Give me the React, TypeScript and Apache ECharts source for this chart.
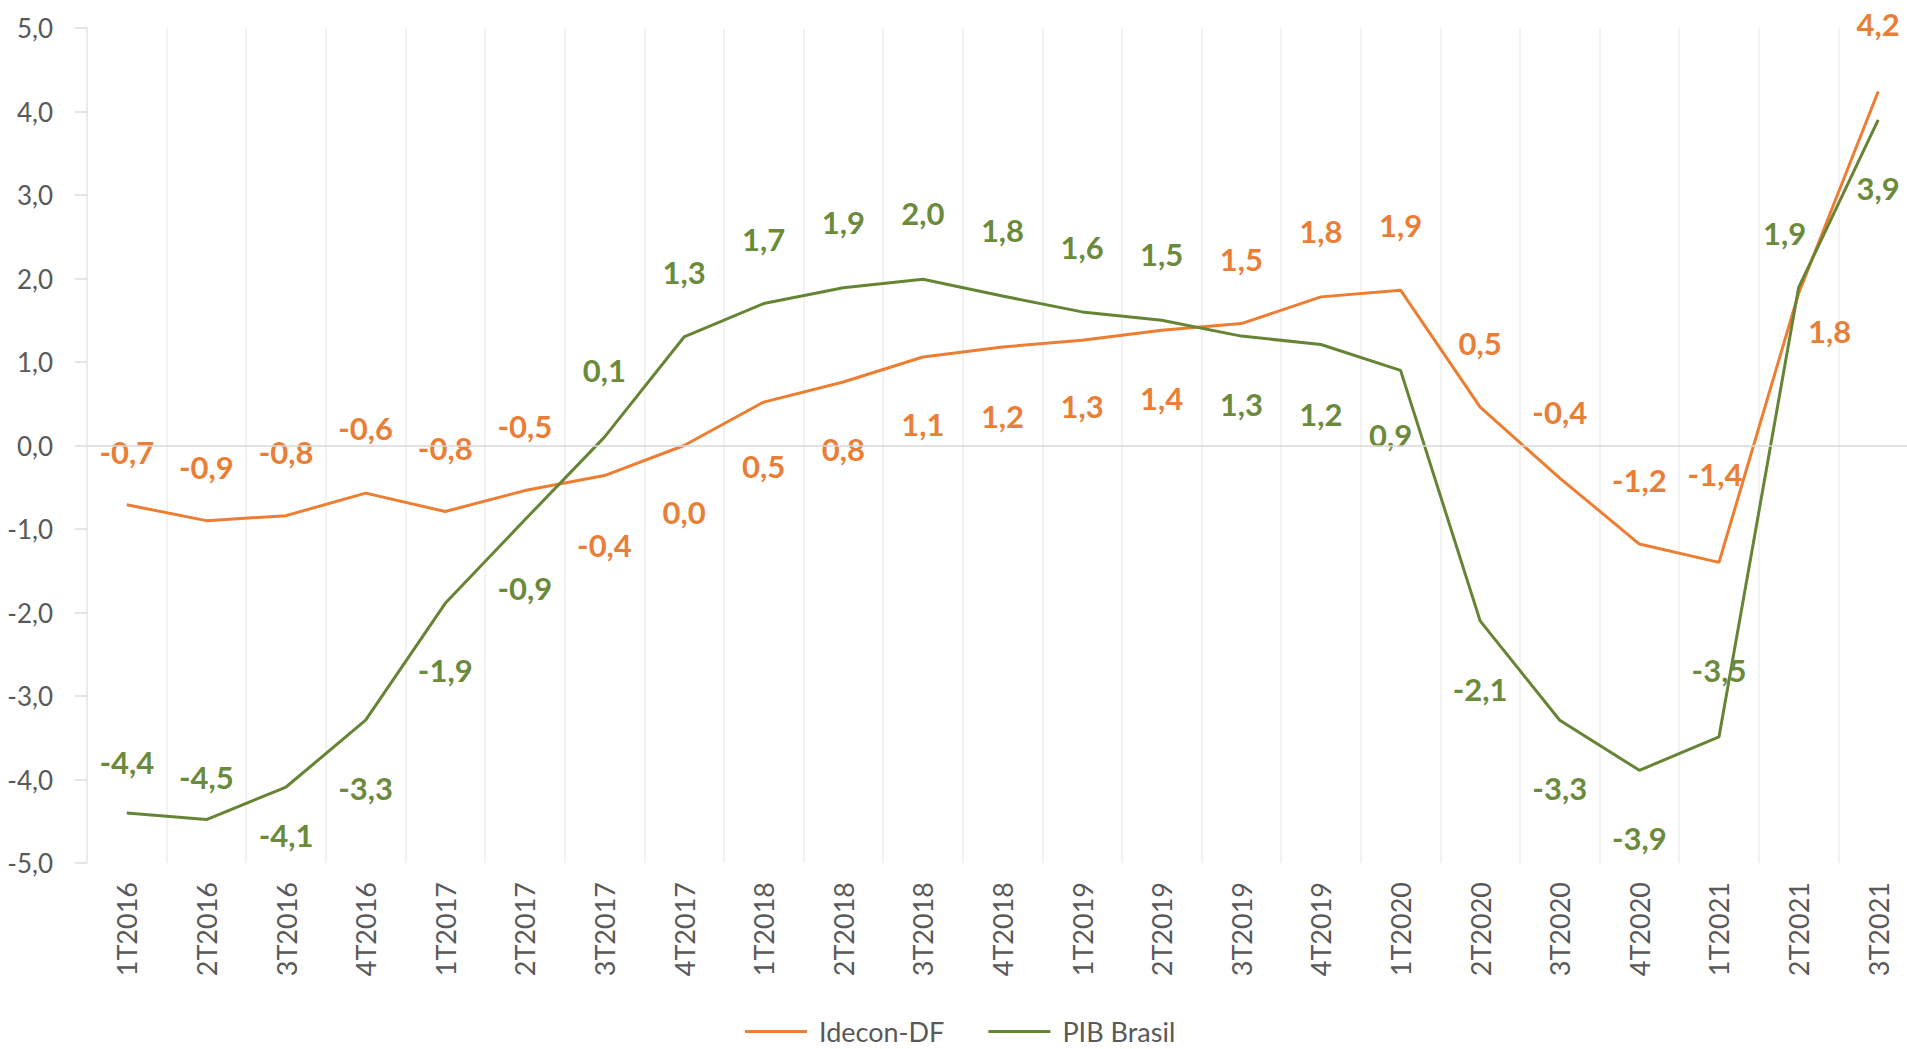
import React, { useEffect, useRef } from "react";
import * as echarts from "echarts";

const categories = [
  "1T2016", "2T2016", "3T2016", "4T2016",
  "1T2017", "2T2017", "3T2017", "4T2017",
  "1T2018", "2T2018", "3T2018", "4T2018",
  "1T2019", "2T2019", "3T2019", "4T2019",
  "1T2020", "2T2020", "3T2020", "4T2020",
  "1T2021", "2T2021", "3T2021",
];

const idecon = [
  -0.71, -0.9, -0.84, -0.57, -0.79, -0.54, -0.36, 0.0, 0.52, 0.76, 1.06, 1.18,
  1.26, 1.38, 1.46, 1.78, 1.86, 0.46, -0.39, -1.18, -1.4, 1.82, 4.24,
];

const pib = [
  -4.4, -4.48, -4.09, -3.29, -1.89, -0.89, 0.1, 1.3, 1.7, 1.89, 1.99, 1.79,
  1.6, 1.5, 1.31, 1.21, 0.9, -2.1, -3.29, -3.89, -3.49, 1.89, 3.9,
];

// label placement offsets (pixels relative to each point)
const idLabelDx = [0, 0, 0, 0, 0, 0, 0, 0, 0, 0, 0, 0, 0, 0, 0, 0, 0, 0, 0, 0, -4, 31, 0];
const idLabelDy = [-53, -54, -64, -65, -63, -65, 69, 66, 64, 67, 67, 69, 66, 68, -65, -66, -65, -64, -66, -64, -88, 37, -67];
const pibLabelDx = [0, 0, 0, 0, 0, 0, 0, 0, 0, 0, 0, 0, 0, 0, 0, 0, -10, 0, 0, 0, 0, -14, 0];
const pibLabelDy = [-51, -43, 48, 68, 67, 68, -67, -65, -65, -66, -66, -66, -65, -66, 68, 70, 65, 68, 68, 68, -67, -55, 68];

const yTicks = { min: -5, max: 5, interval: 1 };

const ORANGE = "#ED7D31";
const ORANGE_TXT = "#E97E36";
const GREEN = "#658534";
const GREEN_TXT = "#6C8A3B";
const GRAY_TXT = "#595959";
const FONT = "Lato";

const fmt = (v: number) => v.toFixed(1).replace(".", ",").replace("-0,0", "0,0");

export default function App() {
  const ref = useRef<HTMLDivElement>(null);

  useEffect(() => {
    if (!ref.current) return;
    const chart = echarts.init(ref.current, undefined, { renderer: "svg" });

    const mkData = (vals: number[], dx: number[], dy: number[]) =>
      vals.map((v, i) => ({ value: v, label: { offset: [dx[i], dy[i]] } }));

    const labelStyle = (color: string) => ({
      show: true,
      position: "inside",
      color,
      fontSize: 31,
      fontWeight: "bold",
      fontFamily: FONT,
      formatter: (p: any) => fmt(p.value),
    });

    chart.setOption({
      animation: false,
      backgroundColor: "#ffffff",
      grid: {
        left: 87,
        right: -11,
        top: 28,
        bottom: 186,
        containLabel: false,
        outerBoundsMode: "none",
      },
      legend: {
        data: ["Idecon-DF", "PIB Brasil"],
        left: 745,
        top: 1018,
        padding: 0,
        icon: "rect",
        itemWidth: 62,
        itemHeight: 3,
        itemGap: 44,
        textStyle: {
          color: GRAY_TXT,
          fontSize: 27,
          lineHeight: 27,
          fontFamily: FONT,
          padding: [0, 0, 0, 7],
        },
      },
      xAxis: {
        type: "category",
        data: categories,
        boundaryGap: true,
        axisLine: { show: false, onZero: false },
        axisTick: { show: false },
        splitLine: { show: true, lineStyle: { color: "#EEEEEE", width: 1.5 } },
        axisLabel: {
          rotate: 90,
          margin: 19,
          color: GRAY_TXT,
          fontSize: 27,
          fontFamily: FONT,
          interval: 0,
        },
      },
      yAxis: {
        type: "value",
        min: yTicks.min,
        max: yTicks.max,
        interval: yTicks.interval,
        axisLine: { show: true, lineStyle: { color: "#E8E8E8", width: 1.5 } },
        axisTick: { show: true, length: 12, lineStyle: { color: "#DDDDDD", width: 1.5 } },
        splitLine: { show: false },
        axisLabel: {
          margin: 34,
          color: GRAY_TXT,
          fontSize: 26,
          fontFamily: FONT,
          formatter: (v: number) => fmt(v),
        },
      },
      series: [
        {
          name: "Idecon-DF",
          type: "line",
          data: mkData(idecon, idLabelDx, idLabelDy),
          symbol: "circle",
          symbolSize: 0,
          showSymbol: true,
          lineStyle: { color: ORANGE, width: 3 },
          itemStyle: { color: ORANGE },
          label: labelStyle(ORANGE_TXT),
          markLine: {
            silent: true,
            symbol: ["none", "none"],
            label: { show: false },
            lineStyle: { color: "#D9D9D9", width: 1.5, type: "solid" },
            data: [{ yAxis: 0 }],
          },
          z: 2,
        },
        {
          name: "PIB Brasil",
          type: "line",
          data: mkData(pib, pibLabelDx, pibLabelDy),
          symbol: "circle",
          symbolSize: 0,
          showSymbol: true,
          lineStyle: { color: GREEN, width: 3 },
          itemStyle: { color: GREEN },
          label: labelStyle(GREEN_TXT),
          z: 3,
        },
      ],
    });

    return () => chart.dispose();
  }, []);

  return (
    <div
      ref={ref}
      style={{ position: "fixed", left: 0, top: 0, width: 1907, height: 1049, background: "#fff" }}
    />
  );
}
